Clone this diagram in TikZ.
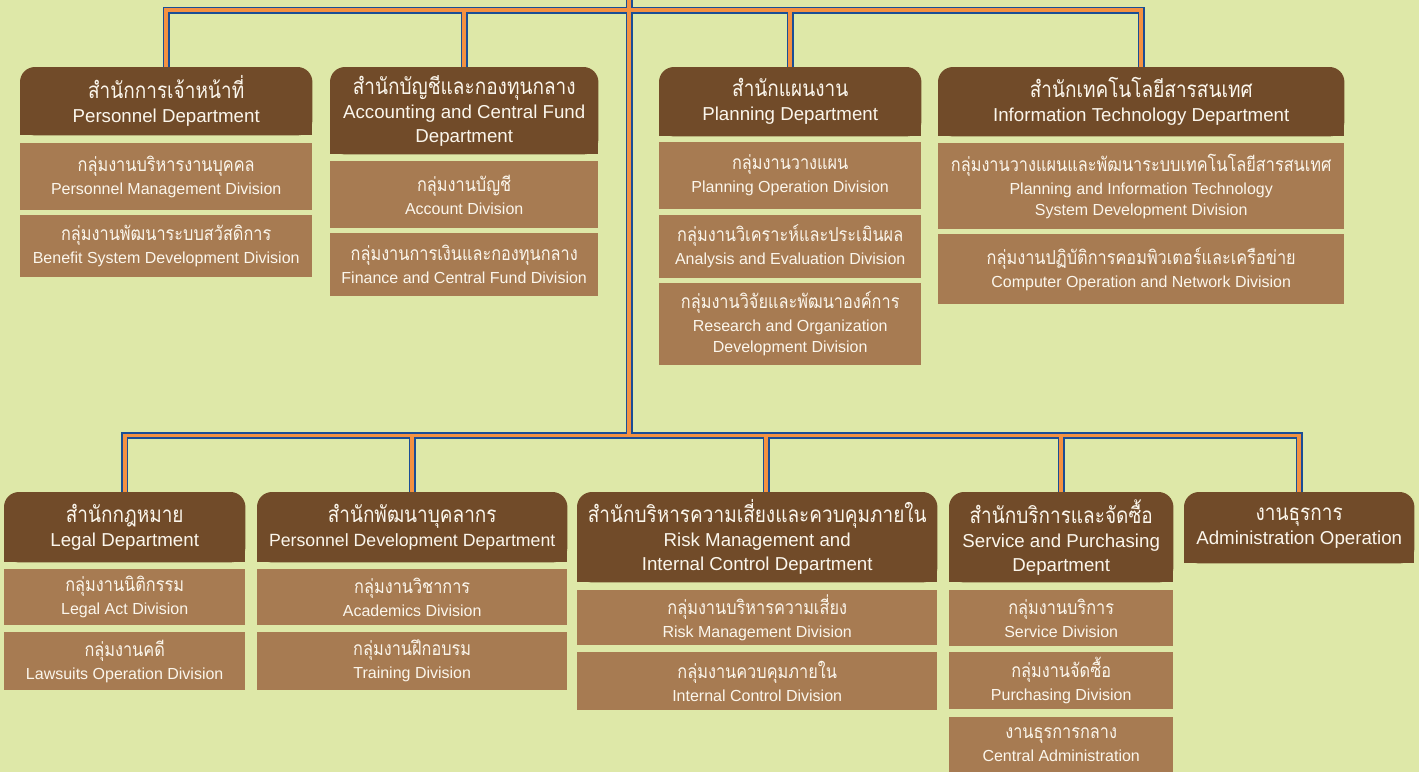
\documentclass[tikz,border=0pt]{standalone}
\usepackage{fontspec}
\usepackage{graphicx}
\setmainfont{Liberation Sans}
\newfontfamily\thaifont[Script=Thai]{Loma}
\usetikzlibrary{backgrounds}
\definecolor{bgc}{HTML}{DEE8A8}
\definecolor{darkc}{HTML}{714B29}
\definecolor{divc}{HTML}{A77B52}
\definecolor{txtc}{HTML}{FBF6EC}
\definecolor{lineblue}{HTML}{1A4E96}
\definecolor{lineorange}{HTML}{F39141}
\newcommand\hth[1]{\scalebox{1}[1.18]{\thaifont\fontsize{19}{24}\selectfont #1}\\[0pt]}
\newcommand\dth[1]{\scalebox{1}[1.18]{\thaifont\fontsize{16.3}{22}\selectfont #1}\\[2pt]}
\tikzset{
  hdr/.style={anchor=north west, inner sep=0pt, align=center, text=txtc,
    font=\fontsize{18.7}{24}\selectfont},
  divbox/.style={anchor=north west, inner sep=0pt, align=center, text=txtc, fill=divc,
    font=\fontsize{16}{21}\selectfont},
  connb/.style={line width=7pt, draw=lineblue},
  conno/.style={line width=3.6pt, draw=lineorange}
}
\begin{document}
\begin{tikzpicture}[x=1pt,y=-1pt]
\useasboundingbox (0,0) rectangle (1419,772);
% ---- top row ----
\node[hdr, minimum width=292pt, minimum height=68pt] (h1) at (20,67) {\hth{สำนักการเจ้าหน้าที่}Personnel Department};
\node[divbox, minimum width=292pt, minimum height=67pt] (d11) at (20,143) {\dth{กลุ่มงานบริหารงานบุคคล}Personnel Management Division};
\node[divbox, minimum width=292pt, minimum height=62pt] (d12) at (20,215) {\dth{กลุ่มงานพัฒนาระบบสวัสดิการ}Benefit System Development Division};

\node[hdr, minimum width=268pt, minimum height=87pt] (h2) at (330,67) {\hth{สำนักบัญชีและกองทุนกลาง}Accounting and Central Fund\\Department};
\node[divbox, minimum width=268pt, minimum height=67pt] (d21) at (330,161) {\dth{กลุ่มงานบัญชี}Account Division};
\node[divbox, minimum width=268pt, minimum height=63pt] (d22) at (330,233) {\dth{กลุ่มงานการเงินและกองทุนกลาง}Finance and Central Fund Division};

\node[hdr, minimum width=262pt, minimum height=69pt] (h3) at (659,67) {\hth{สำนักแผนงาน}Planning Department};
\node[divbox, minimum width=262pt, minimum height=67pt] (d31) at (659,142) {\dth{กลุ่มงานวางแผน}Planning Operation Division};
\node[divbox, minimum width=262pt, minimum height=63pt] (d32) at (659,215) {\dth{กลุ่มงานวิเคราะห์และประเมินผล}Analysis and Evaluation Division};
\node[divbox, minimum width=262pt, minimum height=82pt] (d33) at (659,283) {\dth{กลุ่มงานวิจัยและพัฒนาองค์การ}Research and Organization\\Development Division};

\node[hdr, minimum width=406pt, minimum height=69pt] (h4) at (938,67) {\hth{สำนักเทคโนโลยีสารสนเทศ}Information Technology Department};
\node[divbox, minimum width=406pt, minimum height=86pt] (d41) at (938,143) {\dth{กลุ่มงานวางแผนและพัฒนาระบบเทคโนโลยีสารสนเทศ}Planning and Information Technology\\System Development Division};
\node[divbox, minimum width=406pt, minimum height=70pt] (d42) at (938,234) {\dth{กลุ่มงานปฏิบัติการคอมพิวเตอร์และเครือข่าย}Computer Operation and Network Division};

% ---- bottom row ----
\node[hdr, minimum width=241pt, minimum height=70pt] (h5) at (4,492) {\hth{สำนักกฎหมาย}Legal Department};
\node[divbox, minimum width=241pt, minimum height=56pt] (d51) at (4,569) {\dth{กลุ่มงานนิติกรรม}Legal Act Division};
\node[divbox, minimum width=241pt, minimum height=58pt] (d52) at (4,632) {\dth{กลุ่มงานคดี}Lawsuits Operation Division};

\node[hdr, minimum width=310pt, minimum height=70pt, font=\fontsize{17.7}{24}\selectfont] (h6) at (257,492) {\hth{สำนักพัฒนาบุคลากร}Personnel Development Department};
\node[divbox, minimum width=310pt, minimum height=56pt] (d61) at (257,569) {\dth{กลุ่มงานวิชาการ}Academics Division};
\node[divbox, minimum width=310pt, minimum height=58pt] (d62) at (257,632) {\dth{กลุ่มงานฝึกอบรม}Training Division};

\node[hdr, minimum width=360pt, minimum height=90pt] (h7) at (577,492) {\hth{สำนักบริหารความเสี่ยงและควบคุมภายใน}Risk Management and\\Internal Control Department};
\node[divbox, minimum width=360pt, minimum height=55pt] (d71) at (577,590) {\dth{กลุ่มงานบริหารความเสี่ยง}Risk Management Division};
\node[divbox, minimum width=360pt, minimum height=58pt] (d72) at (577,652) {\dth{กลุ่มงานควบคุมภายใน}Internal Control Division};

\node[hdr, minimum width=224pt, minimum height=90pt] (h8) at (949,492) {\hth{สำนักบริการและจัดซื้อ}Service and Purchasing\\Department};
\node[divbox, minimum width=224pt, minimum height=56pt] (d81) at (949,590) {\dth{กลุ่มงานบริการ}Service Division};
\node[divbox, minimum width=224pt, minimum height=57pt] (d82) at (949,652) {\dth{กลุ่มงานจัดซื้อ}Purchasing Division};
\node[divbox, minimum width=224pt, minimum height=55pt] (d83) at (949,717) {\dth{งานธุรการกลาง}Central Administration};

\node[hdr, minimum width=230pt, minimum height=71pt] (h9) at (1184,492) {\hth{งานธุรการ}Administration Operation};

% ---- background and header shapes ----
\begin{scope}[on background layer]
  \fill[bgc] (0,0) rectangle (1419,772);
  \foreach \n in {h1,h2,h3,h4,h5,h6,h7,h8,h9} {
    \fill[darkc, rounded corners=15pt] (\n.south west) rectangle (\n.north east);
    \fill[darkc] (\n.south west) rectangle (\n.east);
  }
\end{scope}

% ---- connectors ----
\coordinate (ttop) at (629,0);
\coordinate (tj) at (629,10);
\coordinate (bj) at (629,435.5);
\coordinate (rk) at ([xshift=9pt]h7.north);
\foreach \st in {connb,conno} {
  \draw[\st] (ttop) -- (bj);
  \draw[\st] (h1.north) |- (tj) -| (h4.north);
  \draw[\st] (tj) -| (h2.north);
  \draw[\st] (tj) -| (h3.north);
  \draw[\st] (h5.north) |- (bj) -| (h9.north);
  \draw[\st] (bj) -| (h6.north);
  \draw[\st] (bj) -| (rk);
  \draw[\st] (bj) -| (h8.north);
}
\end{tikzpicture}
\end{document}
